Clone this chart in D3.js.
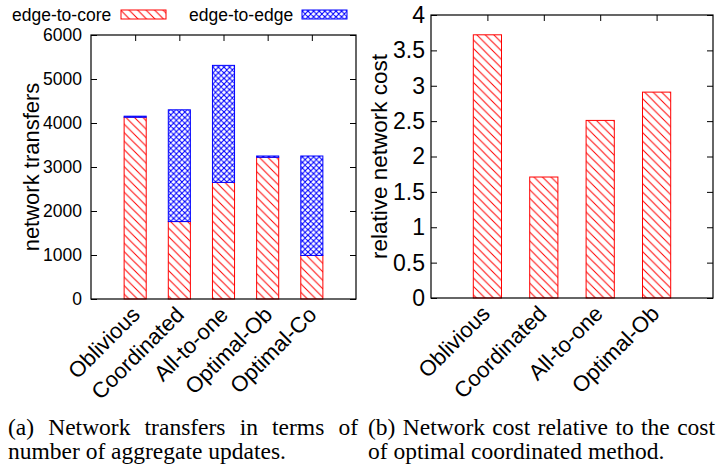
<!DOCTYPE html>
<html>
<head>
<meta charset="utf-8">
<script src="https://cdn.jsdelivr.net/npm/d3@7"></script>
<style>
  body { margin: 0; background: #fff; }
  svg { display: block; }
  .sans { font-family: "Liberation Sans", Arial, Helvetica, sans-serif; fill: #000; }
  .serif { font-family: "Liberation Serif", "Times New Roman", serif; fill: #000; }
</style>
</head>
<body>
<svg id="fig" width="719" height="473"></svg>
<script>
// ---- data: panel (a) network transfers ----
const categoriesA = ["Oblivious", "Coordinated", "All-to-one", "Optimal-Ob", "Optimal-Co"];
const edgeToCore  = [4130, 1760, 2650, 3220, 990];
const edgeToEdge  = [25, 2540, 2660, 30, 2260];
const yTicksA     = [0, 1000, 2000, 3000, 4000, 5000, 6000];
const seriesNames = ["edge-to-core", "edge-to-edge"];

// ---- data: panel (b) relative network cost ----
const categoriesB  = ["Oblivious", "Coordinated", "All-to-one", "Optimal-Ob"];
const relativeCost = [3.72, 1.71, 2.51, 2.91];
const yTicksB      = [0, 0.5, 1, 1.5, 2, 2.5, 3, 3.5, 4];

const captionA = ["(a) Network transfers in terms of", "number of aggregate updates."];
const captionB = ["(b) Network cost relative to the cost", "of optimal coordinated method."];

const RED = "#ff0000", BLUE = "#0000ff";
const svg = d3.select("#fig");
const defs = svg.append("defs");

// hatch fills: "\\\\" lines for edge-to-core, crosshatch for edge-to-edge
function hatch(id, p, color, cross, sw) {
  const pat = defs.append("pattern").attr("id", id)
    .attr("patternUnits", "userSpaceOnUse").attr("width", p).attr("height", p);
  let d = `M0,0L${p},${p}M${-1},${p - 1}L1,${p + 1}M${p - 1},-1L${p + 1},1`;
  if (cross) d += `M0,${p}L${p},0M-1,1L1,-1M${p - 1},${p + 1}L${p + 1},${p - 1}`;
  pat.append("path").attr("d", d).attr("stroke", color).attr("stroke-width", sw).attr("fill", "none");
  if (cross) pat.append("circle").attr("cx", p / 2).attr("cy", p / 2).attr("r", 0.9).attr("fill", color);
}
hatch("hatchRed", 8.5, RED, false, 1);
hatch("hatchBlue", 5.6, BLUE, true, 1.1);

function panel(opts) {
  const { x, y, n, yTicks, fmt, tickFont, cats, catFont, catDx, catDy, ylabel, ylabelX, ylabelFont } = opts;
  const g = svg.append("g");
  const [x0, x1] = x.range();
  const [y0, y1] = y.range();

  const styleAxis = sel => {
    sel.select(".domain").remove();
    sel.selectAll(".tick line").attr("stroke", "#000").attr("stroke-width", 1);
    sel.selectAll(".tick text").attr("class", "sans").attr("font-size", tickFont).attr("fill", "#000");
    sel.attr("font-family", null).attr("font-size", null);
  };
  g.append("g").attr("transform", `translate(${x0},0)`)
    .call(d3.axisLeft(y).tickValues(yTicks).tickSize(-6).tickPadding(opts.tickPad).tickFormat(fmt)).call(styleAxis);
  g.append("g").attr("transform", `translate(${x1},0)`)
    .call(d3.axisRight(y).tickValues(yTicks).tickSize(-6).tickFormat("")).call(styleAxis);
  g.append("g").attr("transform", `translate(0,${y1})`)
    .call(d3.axisTop(x).tickValues(d3.range(n)).tickSize(-6).tickFormat("")).call(styleAxis);
  g.append("g").attr("transform", `translate(0,${y0})`)
    .call(d3.axisBottom(x).tickValues(d3.range(n)).tickSize(-6).tickFormat("")).call(styleAxis);

  const bars = g.append("g");
  // category labels, rotated
  g.append("g").selectAll("text").data(cats).join("text")
    .attr("class", "sans").attr("font-size", catFont).attr("text-anchor", "end")
    .attr("transform", (d, i) => `translate(${x(i) + catDx},${y0 + catDy}) rotate(-45)`)
    .text(d => d);

  g.append("text").attr("class", "sans").attr("font-size", ylabelFont).attr("text-anchor", "middle")
    .attr("transform", `translate(${ylabelX},${(y0 + y1) / 2}) rotate(-90)`).text(ylabel);

  return { g, bars, frame: () => g.append("rect").attr("x", x0).attr("y", y1)
      .attr("width", x1 - x0).attr("height", y0 - y1)
      .attr("fill", "none").attr("stroke", "#000").attr("stroke-width", 1.2) };
}

function drawBar(sel, x, y, i, lo, hi, fill, stroke) {
  const w = x(0.25) - x(-0.25);
  sel.append("rect").attr("x", x(i) - w / 2).attr("y", y(hi)).attr("width", w).attr("height", y(lo) - y(hi))
    .attr("fill", "#fff");
  sel.append("rect").attr("x", x(i) - w / 2).attr("y", y(hi)).attr("width", w).attr("height", y(lo) - y(hi))
    .attr("fill", fill).attr("stroke", stroke).attr("stroke-width", 1);
}

// ---- panel (a) ----
const xA = d3.scaleLinear().domain([-1, 5]).range([91, 356]);
const yA = d3.scaleLinear().domain([0, 6000]).range([299, 35]);
const pA = panel({ x: xA, y: yA, n: categoriesA.length, yTicks: yTicksA, fmt: d3.format("d"),
  tickFont: 17.5, tickPad: 9, cats: categoriesA, catFont: 22, catDx: 6, catDy: 17,
  ylabel: "network transfers", ylabelX: 39, ylabelFont: 22 });
categoriesA.forEach((c, i) => {
  drawBar(pA.bars, xA, yA, i, 0, edgeToCore[i], "url(#hatchRed)", RED);
  drawBar(pA.bars, xA, yA, i, edgeToCore[i], edgeToCore[i] + edgeToEdge[i], "url(#hatchBlue)", BLUE);
});
pA.frame();

// legend
const legend = svg.append("g");
const legendX = [[12, 121], [189, 302]];
const legendFill = [["url(#hatchRed)", RED], ["url(#hatchBlue)", BLUE]];
seriesNames.forEach((name, k) => {
  legend.append("text").attr("class", "sans").attr("font-size", 17.5)
    .attr("x", legendX[k][0]).attr("y", 21).text(name);
  legend.append("rect").attr("x", legendX[k][1]).attr("y", 10).attr("width", 45).attr("height", 9)
    .attr("fill", legendFill[k][0]).attr("stroke", legendFill[k][1]).attr("stroke-width", 1);
});

// ---- panel (b) ----
const xB = d3.scaleLinear().domain([-1, 4]).range([431, 713]);
const yB = d3.scaleLinear().domain([0, 4]).range([298, 15]);
const pB = panel({ x: xB, y: yB, n: categoriesB.length, yTicks: yTicksB, fmt: d => String(d),
  tickFont: 23, tickPad: 6, cats: categoriesB, catFont: 22, catDx: 4, catDy: 17,
  ylabel: "relative network cost", ylabelX: 387, ylabelFont: 22.5 });
categoriesB.forEach((c, i) => {
  drawBar(pB.bars, xB, yB, i, 0, relativeCost[i], "url(#hatchRed)", RED);
});
pB.frame();

// ---- captions (first lines justified) ----
const cap = svg.append("g").attr("class", "serif").attr("font-size", 23.5);
function justified(words, xs, xe, y) {
  const nodes = words.map(w => cap.append("text").attr("class", "serif").attr("y", y).text(w));
  const widths = nodes.map(t => t.node().getComputedTextLength());
  const gap = (xe - xs - d3.sum(widths)) / (words.length - 1);
  let cx = xs;
  nodes.forEach((t, i) => { t.attr("x", cx); cx += widths[i] + gap; });
}
justified(captionA[0].split(" "), 8, 358, 435);
cap.append("text").attr("class", "serif").attr("x", 8).attr("y", 459).text(captionA[1]);
justified(captionB[0].split(" "), 368, 715, 435);
cap.append("text").attr("class", "serif").attr("x", 368).attr("y", 459).text(captionB[1]);
</script>
</body>
</html>
